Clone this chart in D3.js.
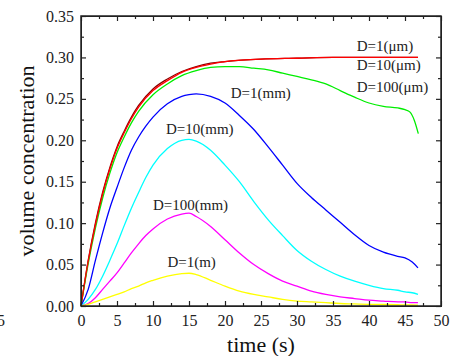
<!DOCTYPE html>
<html>
<head>
<meta charset="utf-8">
<script src="https://cdn.jsdelivr.net/npm/d3@7"></script>
<style>
  body { margin: 0; background: #fff; }
  svg { display: block; font-family: "Liberation Serif", "Times New Roman", serif; }
  .axis text { font-size: 16px; fill: #222; font-family: "Liberation Serif", serif; }
  .axis path, .axis line { stroke: #222; }
</style>
</head>
<body>
<svg id="chart" width="456" height="356"></svg>
<script>
// time (s) sample points and volume concentration per particle size
const tRise = [0, 1, 2, 3, 4, 5, 6, 7, 8, 10, 12, 14, 16, 18, 20, 25, 30, 35, 40, 45, 46.8];
const d1umVals = [0, 0.055, 0.100, 0.137, 0.167, 0.192, 0.211, 0.228, 0.242, 0.262, 0.274, 0.283, 0.289, 0.293, 0.295, 0.298, 0.299, 0.300, 0.300, 0.300, 0.300];
const d10umVals = [0, 0.054, 0.098, 0.135, 0.165, 0.190, 0.209, 0.226, 0.240, 0.260, 0.272, 0.282, 0.288, 0.292, 0.295, 0.298, 0.299, 0.300, 0.300, 0.300, 0.300];

const tGreen = [0, 1, 2, 3, 4, 5, 6, 7, 8, 10, 12, 14, 16, 18, 20, 22, 24, 26, 28, 30, 32, 34, 36, 38, 40, 42, 44, 45, 45.7, 46.3, 46.85];
const d100umVals = [0, 0.051, 0.094, 0.130, 0.160, 0.185, 0.204, 0.221, 0.235, 0.255, 0.268, 0.278, 0.284, 0.288, 0.289, 0.289, 0.287, 0.285, 0.281, 0.277, 0.273, 0.268, 0.260, 0.252, 0.245, 0.241, 0.239, 0.237, 0.234, 0.224, 0.208];

const tPeak = [0, 1, 2, 3, 4, 5, 6, 7, 8, 9, 10, 12, 14, 15, 16, 18, 20, 22, 24, 26, 28, 30, 32, 34, 36, 38, 40, 42, 44, 45, 46, 46.8];
const d1mmVals = [0, 0.020, 0.055, 0.088, 0.118, 0.143, 0.167, 0.188, 0.204, 0.217, 0.228, 0.244, 0.253, 0.255, 0.256, 0.253, 0.245, 0.230, 0.213, 0.192, 0.170, 0.148, 0.131, 0.116, 0.101, 0.086, 0.073, 0.065, 0.060, 0.058, 0.053, 0.046];
const d10mmVals = [0, 0.008, 0.020, 0.036, 0.055, 0.075, 0.097, 0.118, 0.137, 0.155, 0.170, 0.190, 0.200, 0.201, 0.199, 0.188, 0.170, 0.150, 0.126, 0.104, 0.085, 0.067, 0.054, 0.044, 0.036, 0.030, 0.025, 0.021, 0.019, 0.017, 0.016, 0.014];
const d100mmVals = [0, 0.003, 0.010, 0.020, 0.030, 0.040, 0.052, 0.064, 0.075, 0.085, 0.093, 0.105, 0.111, 0.112, 0.108, 0.096, 0.080, 0.064, 0.050, 0.039, 0.030, 0.024, 0.018, 0.014, 0.011, 0.009, 0.007, 0.006, 0.005, 0.005, 0.004, 0.004];
const d1mVals = [0, 0.002, 0.005, 0.008, 0.011, 0.014, 0.017, 0.021, 0.024, 0.028, 0.031, 0.036, 0.039, 0.0395, 0.038, 0.031, 0.024, 0.018, 0.014, 0.011, 0.008, 0.006, 0.005, 0.004, 0.003, 0.0025, 0.002, 0.0018, 0.0015, 0.0013, 0.0012, 0.001];

const series = [
  { name: 'D=1(μm)', t: tRise, v: d1umVals, color: '#8b0000' },
  { name: 'D=100(μm)', t: tGreen, v: d100umVals, color: '#00ee00' },
  { name: 'D=10(μm)', t: tRise, v: d10umVals, color: '#ff0000' },
  { name: 'D=1(mm)', t: tPeak, v: d1mmVals, color: '#0000ff' },
  { name: 'D=10(mm)', t: tPeak, v: d10mmVals, color: '#00ffff' },
  { name: 'D=100(mm)', t: tPeak, v: d100mmVals, color: '#ff00ff' },
  { name: 'D=1(m)', t: tPeak, v: d1mVals, color: '#ffff00' }
];

// curve labels placed in data coords
const labels = [
  { text: 'D=1(μm)', t: 38.3, v: 0.3075 },
  { text: 'D=10(μm)', t: 38.3, v: 0.2845 },
  { text: 'D=100(μm)', t: 38.3, v: 0.2585 },
  { text: 'D=1(mm)', t: 20.8, v: 0.2510 },
  { text: 'D=10(mm)', t: 11.8, v: 0.2075 },
  { text: 'D=100(mm)', t: 10.0, v: 0.1160 },
  { text: 'D=1(m)', t: 12.0, v: 0.0475 }
];

const xTicks = d3.range(0, 51, 5);
const yTicks = d3.range(0, 0.351, 0.05);

const svg = d3.select('#chart');
const mLeft = 81, mRight = 441, mTop = 16, mBottom = 306;

const x = d3.scaleLinear().domain([0, 50]).range([mLeft, mRight]);
const y = d3.scaleLinear().domain([0, 0.35]).range([mBottom, mTop]);

// lines
const line = d3.line().x(d => x(d[0])).y(d => y(d[1])).curve(d3.curveMonotoneX);
series.forEach(s => {
  svg.append('path')
    .datum(s.t.map((t, i) => [t, s.v[i]]))
    .attr('fill', 'none')
    .attr('stroke', s.color)
    .attr('stroke-width', 1.3)
    .attr('d', line);
});

// axes, ticks inward
const minorX = d3.range(0, 50.1, 2.5).filter(d => d % 5 !== 0);
const minorY = d3.range(0.025, 0.35, 0.05);

svg.append('g').attr('class', 'axis').attr('transform', `translate(0,${mBottom})`)
  .call(d3.axisBottom(x).tickValues(xTicks).tickSizeInner(-5).tickSizeOuter(0).tickPadding(8.5).tickFormat(d3.format('d')));
svg.append('g').attr('class', 'axis').attr('transform', `translate(0,${mBottom})`)
  .call(d3.axisBottom(x).tickValues(minorX).tickSize(-3).tickFormat(''));
svg.append('g').attr('class', 'axis').attr('transform', `translate(0,${mTop})`)
  .call(d3.axisTop(x).tickValues(xTicks).tickSize(-5).tickFormat(''));
svg.append('g').attr('class', 'axis').attr('transform', `translate(0,${mTop})`)
  .call(d3.axisTop(x).tickValues(minorX).tickSize(-3).tickFormat(''));

svg.append('g').attr('class', 'axis').attr('transform', `translate(${mLeft},0)`)
  .call(d3.axisLeft(y).tickValues(yTicks).tickSizeInner(-5).tickSizeOuter(0).tickPadding(7).tickFormat(d3.format('.2f')));
svg.append('g').attr('class', 'axis').attr('transform', `translate(${mLeft},0)`)
  .call(d3.axisLeft(y).tickValues(minorY).tickSize(-3).tickFormat(''));
svg.append('g').attr('class', 'axis').attr('transform', `translate(${mRight},0)`)
  .call(d3.axisRight(y).tickValues(yTicks).tickSize(-5).tickFormat(''));
svg.append('g').attr('class', 'axis').attr('transform', `translate(${mRight},0)`)
  .call(d3.axisRight(y).tickValues(minorY).tickSize(-3).tickFormat(''));

svg.selectAll('.axis line').attr('stroke-width', 1.2);
svg.selectAll('.axis path').attr('stroke', 'none');

svg.append('rect')
  .attr('x', mLeft).attr('y', mTop)
  .attr('width', mRight - mLeft).attr('height', mBottom - mTop)
  .attr('fill', 'none').attr('stroke', '#222').attr('stroke-width', 1.5);

// curve labels
svg.selectAll('.curve-label')
  .data(labels)
  .enter()
  .append('text')
  .attr('class', 'curve-label')
  .attr('x', d => x(d.t))
  .attr('y', d => y(d.v))
  .attr('font-size', 15)
  .attr('fill', '#222')
  .text(d => d.text);

// axis titles
svg.append('text')
  .attr('x', (mLeft + mRight) / 2).attr('y', 352)
  .attr('text-anchor', 'middle')
  .attr('font-size', 22)
  .attr('fill', '#111')
  .text('time (s)');

svg.append('text')
  .attr('transform', `translate(34,${(mTop + mBottom) / 2}) rotate(-90)`)
  .attr('text-anchor', 'middle')
  .attr('font-size', 22)
  .attr('fill', '#111')
  .text('volume concentration');

// leftover tick label cut by the left edge, as in the reference
svg.append('text')
  .attr('x', 5).attr('y', 326)
  .attr('text-anchor', 'end')
  .attr('font-size', 16)
  .attr('fill', '#222')
  .text('5');
</script>
</body>
</html>
